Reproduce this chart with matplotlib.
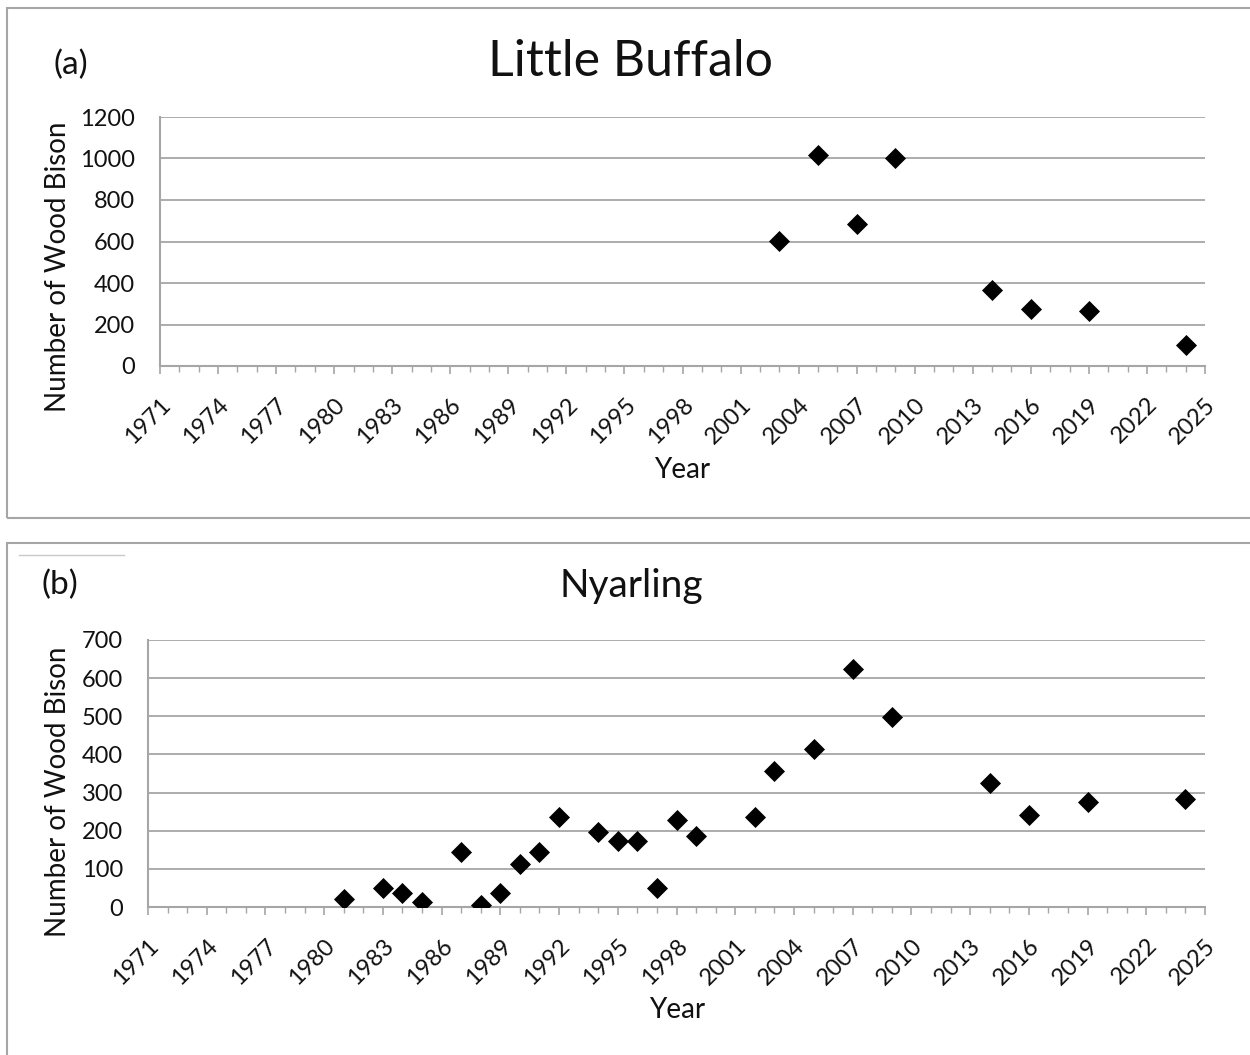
import matplotlib
matplotlib.use("Agg")
import matplotlib.pyplot as plt
from matplotlib.patches import Rectangle
from matplotlib.lines import Line2D
from matplotlib.ticker import MultipleLocator

plt.rcParams['font.family'] = ['Lato', 'DejaVu Sans']

# Little Buffalo
lb_years = [2003, 2005, 2007, 2009, 2014, 2016, 2019, 2024]
lb_counts = [601, 1019, 683, 1001, 364, 276, 263, 102]

# Nyarling
ny_years = [1981, 1983, 1984, 1985, 1987, 1988, 1989, 1990, 1991, 1992,
            1994, 1995, 1996, 1997, 1998, 1999, 2002, 2003, 2005, 2007,
            2009, 2014, 2016, 2019, 2024]
ny_counts = [22, 49, 36, 13, 145, 5, 38, 112, 144, 236,
             196, 174, 173, 50, 229, 185, 235, 356, 414, 625,
             497, 326, 240, 276, 282]

x_ticks = list(range(1971, 2026, 3))
lb_yticks = [0, 200, 400, 600, 800, 1000, 1200]
ny_yticks = [0, 100, 200, 300, 400, 500, 600, 700]

W, H = 1250, 1055
fig = plt.figure(figsize=(W / 100, H / 100), dpi=100)
GRAY = '#a6a6a6'
TXT = '#111111'


def fx(px):
    return px / W


def fy(py):
    return 1 - py / H


# panel frames
fig.patches.append(Rectangle((fx(7), fy(518)), fx(1260 - 7), (518 - 8) / H,
                             transform=fig.transFigure, fill=False,
                             edgecolor=GRAY, lw=1.5))
fig.patches.append(Rectangle((fx(7), fy(1065)), fx(1260 - 7), (1065 - 543) / H,
                             transform=fig.transFigure, fill=False,
                             edgecolor=GRAY, lw=1.5))
fig.lines.append(Line2D([fx(19), fx(124)], [fy(555), fy(555)],
                        transform=fig.transFigure, color='#c8c8c8', lw=1))


def setup(ax, years, counts, yticks, ymax):
    ax.scatter(years, counts, marker='D', s=115, color='black', zorder=3,
               linewidths=0)
    ax.set_xlim(1971, 2025)
    ax.set_ylim(0, ymax)
    ax.set_yticks(yticks)
    ax.set_xticks(x_ticks)
    ax.xaxis.set_minor_locator(MultipleLocator(1))
    ax.grid(axis='y', color=GRAY, lw=1.3, zorder=0)
    ax.set_axisbelow(True)
    for s in ['top', 'right']:
        ax.spines[s].set_visible(False)
    for s in ['left', 'bottom']:
        ax.spines[s].set_color(GRAY)
        ax.spines[s].set_linewidth(1.5)
    ax.tick_params(axis='y', length=0, pad=18, labelsize=17, labelcolor=TXT)
    ax.tick_params(axis='x', which='major', length=6, width=1.2, color=GRAY,
                   pad=14, labelsize=17, labelcolor=TXT)
    ax.tick_params(axis='x', which='minor', length=4, width=1.0, color=GRAY)
    for lab in ax.get_xticklabels():
        lab.set_rotation(45)
        lab.set_ha('right')
        lab.set_va('top')
        lab.set_rotation_mode('anchor')


ax1 = fig.add_axes([fx(160), fy(366), fx(1205 - 160), (366 - 117) / H])
setup(ax1, lb_years, lb_counts, lb_yticks, 1200)

ax2 = fig.add_axes([fx(148), fy(907), fx(1205 - 148), (907 - 640) / H])
setup(ax2, ny_years, ny_counts, ny_yticks, 700)

# axis labels
fig.text(fx(58), fy(267), 'Number of Wood Bison', fontsize=20, rotation=90,
         ha='center', va='center', color=TXT)
fig.text(fx(682), fy(470), 'Year', fontsize=20, ha='center', va='center', color=TXT)
fig.text(fx(58), fy(792), 'Number of Wood Bison', fontsize=20, rotation=90,
         ha='center', va='center', color=TXT)
fig.text(fx(677), fy(1010), 'Year', fontsize=20, ha='center', va='center', color=TXT)

# titles
fig.text(fx(630), fy(76), 'Little Buffalo', fontsize=36, ha='center',
         va='baseline', color=TXT)
fig.text(fx(71), fy(65), '(a)', fontsize=24, ha='center', va='center', color=TXT)
fig.text(fx(631), fy(597), 'Nyarling', fontsize=28, ha='center',
         va='baseline', color=TXT)
fig.text(fx(60), fy(585), '(b)', fontsize=24, ha='center', va='center', color=TXT)

fig.savefig('out.png', dpi=100)
